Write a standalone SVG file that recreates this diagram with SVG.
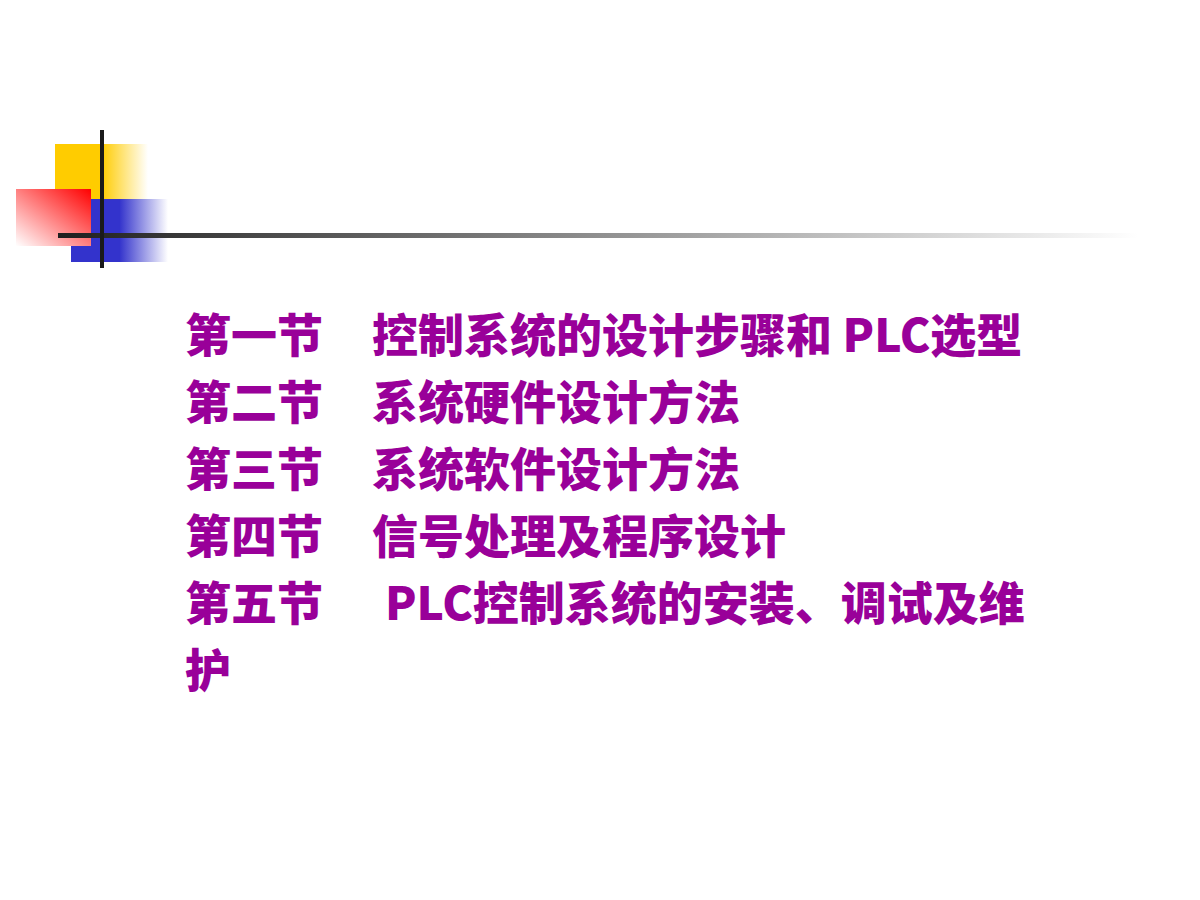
<svg xmlns="http://www.w3.org/2000/svg" width="1200" height="900" viewBox="0 0 1200 900">
  <defs>
    <linearGradient id="gYellow" x1="0" y1="0" x2="1" y2="0">
      <stop offset="0" stop-color="#FFCC00"/>
      <stop offset="0.5" stop-color="#FFCC00"/>
      <stop offset="1" stop-color="#FFFFFF"/>
    </linearGradient>
    <linearGradient id="gBlue" x1="0" y1="0" x2="1" y2="0">
      <stop offset="0" stop-color="#3333CC"/>
      <stop offset="0.5" stop-color="#3333CC"/>
      <stop offset="1" stop-color="#FFFFFF"/>
    </linearGradient>
    <linearGradient id="gRed" x1="1" y1="0" x2="0" y2="1">
      <stop offset="0" stop-color="#FF0000"/>
      <stop offset="1" stop-color="#FFFFFF"/>
    </linearGradient>
    <linearGradient id="gLine" x1="0" y1="0" x2="1" y2="0">
      <stop offset="0" stop-color="#1F1F1F"/>
      <stop offset="1" stop-color="#FFFFFF"/>
    </linearGradient>
  </defs>
  <style>
    .t { font-family: "Noto Sans CJK SC", "Liberation Sans", sans-serif; font-weight: 900; font-size: 46px; fill: #990099; }
  </style>
  <rect width="1200" height="900" fill="#FFFFFF"/>
  <g id="decoration">
    <rect x="55" y="144" width="93" height="55" fill="url(#gYellow)"/>
    <rect x="71" y="199" width="97" height="63" fill="url(#gBlue)"/>
    <rect x="16" y="189" width="75" height="57" fill="url(#gRed)"/>
    <rect x="58" y="233" width="1080" height="5" fill="url(#gLine)"/>
    <rect x="100" y="130" width="4" height="138" fill="#1A1A1A"/>
  </g>
  <g id="contents">
    <text class="t" x="185" y="352">第一节</text>
    <text class="t" x="372" y="352">控制系统的设计步骤和 PLC选型</text>
    <text class="t" x="185" y="419">第二节</text>
    <text class="t" x="372" y="419">系统硬件设计方法</text>
    <text class="t" x="185" y="486">第三节</text>
    <text class="t" x="372" y="486">系统软件设计方法</text>
    <text class="t" x="185" y="553">第四节</text>
    <text class="t" x="372" y="553">信号处理及程序设计</text>
    <text class="t" x="185" y="620">第五节</text>
    <text class="t" x="385" y="620">PLC控制系统的安装、调试及维</text>
    <text class="t" x="185" y="687">护</text>
  </g>
</svg>
